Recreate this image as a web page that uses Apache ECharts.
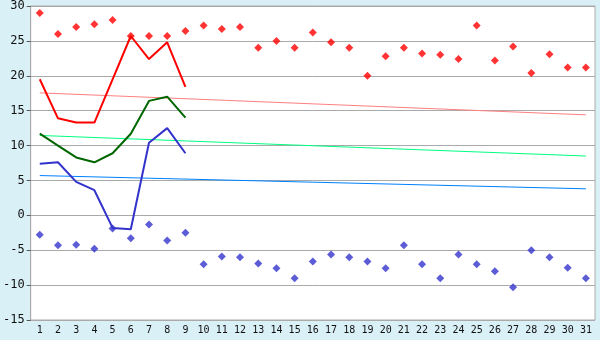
<!DOCTYPE html>
<html>
<head>
<meta charset="utf-8">
<script src="https://cdn.jsdelivr.net/npm/echarts@6/dist/echarts.min.js"></script>
<style>
html,body{margin:0;padding:0;background:#daf0f7;}
#c{width:600px;height:340px;}
</style>
</head>
<body>
<div id="c"></div>
<script>
const days = ['1','2','3','4','5','6','7','8','9','10','11','12','13','14','15','16','17','18','19','20','21','22','23','24','25','26','27','28','29','30','31'];
const maxPoints = [29, 26, 27, 27.4, 28, 25.7, 25.7, 25.7, 26.4, 27.2, 26.7, 27, 24, 25, 24, 26.2, 24.8, 24, 20, 22.8, 24, 23.2, 23, 22.4, 27.2, 22.2, 24.2, 20.4, 23.1, 21.2, 21.2];
const minPoints = [-2.8, -4.3, -4.2, -4.8, -1.9, -3.3, -1.3, -3.6, -2.5, -7, -5.9, -6, -6.9, -7.6, -9, -6.6, -5.6, -6, -6.6, -7.6, -4.3, -7, -9, -5.6, -7, -8, -10.3, -5, -6, -7.5, -9];
const maxLine = [19.5, 13.9, 13.3, 13.3, 19.5, 25.7, 22.4, 24.8, 18.4];
const meanLine = [11.7, 10, 8.3, 7.6, 8.9, 11.7, 16.4, 17, 14];
const minLine = [7.4, 7.6, 4.8, 3.6, -1.8, -2, 10.4, 12.5, 8.9];
const maxTrend = [17.55, 14.4];
const meanTrend = [11.45, 8.5];
const minTrend = [5.7, 3.8];
const yTicks = {min: -15, max: 30, step: 5};

function pad(arr) {
  const out = days.map(() => null);
  arr.forEach((v, i) => { out[i] = v; });
  return out;
}
function ends(pair) {
  const out = days.map(() => null);
  out[0] = pair[0];
  out[days.length - 1] = pair[1];
  return out;
}

const chart = echarts.init(document.getElementById('c'), null, {renderer: 'canvas'});
const fontFam = '"DejaVu Sans Mono", monospace';
chart.setOption({
  backgroundColor: '#daf0f7',
  animation: false,
  grid: {left: 27, right: 5, top: 5, bottom: 20, show: true, backgroundColor: '#ffffff', borderColor: '#aaaaaa', borderWidth: 1},
  xAxis: {
    type: 'category', data: days, boundaryGap: true,
    axisLine: {lineStyle: {color: '#aaaaaa'}},
    axisTick: {alignWithLabel: true, length: 4, lineStyle: {color: '#222'}},
    axisLabel: {color: '#111', fontFamily: fontFam, fontSize: 10, margin: 5, interval: 0}
  },
  yAxis: {
    type: 'value', min: yTicks.min, max: yTicks.max, interval: yTicks.step,
    axisLine: {show: true, lineStyle: {color: '#aaaaaa'}},
    axisTick: {show: true, length: 4, lineStyle: {color: '#555'}},
    splitLine: {lineStyle: {color: '#aaaaaa'}},
    axisLabel: {color: '#111', fontFamily: fontFam, fontSize: 12, margin: 6}
  },
  series: [
    {type: 'line', data: ends(maxTrend), connectNulls: true, showSymbol: false, lineStyle: {color: '#ff8080', width: 1}, itemStyle: {color: '#ff8080'}},
    {type: 'line', data: ends(meanTrend), connectNulls: true, showSymbol: false, lineStyle: {color: '#00ff80', width: 1}, itemStyle: {color: '#00ff80'}},
    {type: 'line', data: ends(minTrend), connectNulls: true, showSymbol: false, lineStyle: {color: '#0080ff', width: 1}, itemStyle: {color: '#0080ff'}},
    {type: 'line', data: pad(maxLine), showSymbol: false, lineStyle: {color: '#ff0000', width: 2}, itemStyle: {color: '#ff0000'}},
    {type: 'line', data: pad(meanLine), showSymbol: false, lineStyle: {color: '#006600', width: 2}, itemStyle: {color: '#006600'}},
    {type: 'line', data: pad(minLine), showSymbol: false, lineStyle: {color: '#3333cc', width: 2}, itemStyle: {color: '#3333cc'}},
    {type: 'scatter', data: maxPoints, symbol: 'diamond', symbolSize: 8, itemStyle: {color: '#ff0000'}},
    {type: 'scatter', data: minPoints, symbol: 'diamond', symbolSize: 8, itemStyle: {color: '#3333cc'}}
  ]
});
</script>
</body>
</html>
